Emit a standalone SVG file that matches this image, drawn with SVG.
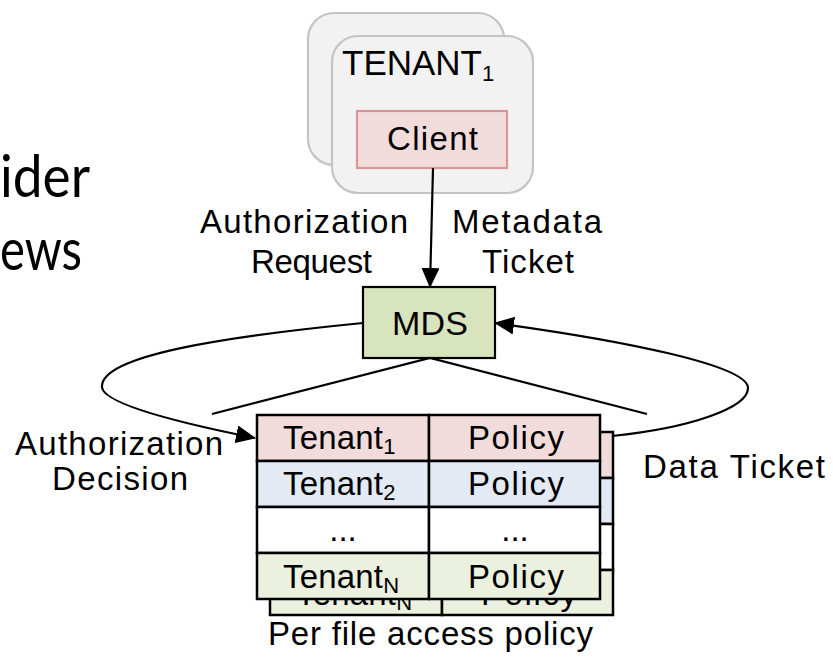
<svg xmlns="http://www.w3.org/2000/svg" width="833" height="658" viewBox="0 0 833 658">
<defs>
<style>
text{font-family:"Liberation Sans",Arial,sans-serif;fill:#000;}
.t{font-size:33px;}
.big{font-family:Lato,"Open Sans",sans-serif;font-size:58px;}
.ln{fill:none;stroke:#000;stroke-width:2.2;}
.cell{stroke:#000;stroke-width:2.5;}
.pink{fill:#f2dcdb;}
.blue{fill:#e4eaf4;}
.white{fill:#fff;}
.green{fill:#ebf1de;}
.tenant{fill:#f2f2f2;stroke:#c4c4c4;stroke-width:2.2;}
.sub{font-size:22px;}
</style>
<marker id="ahl" markerWidth="20" markerHeight="18" refX="19" refY="9" orient="auto" markerUnits="userSpaceOnUse" viewBox="0 0 20 18">
<path d="M0,0 L20,9 L0,18 Z" fill="#000"/>
</marker>
<clipPath id="backclip">
<rect x="260" y="600" width="360" height="20"/>
</clipPath>
</defs>

<!-- partial slide text -->
<text class="big" x="0" y="197" textLength="90" lengthAdjust="spacingAndGlyphs">ider</text>
<text class="big" x="0" y="270" textLength="82" lengthAdjust="spacingAndGlyphs">ews</text>

<g id="tenant1">
<rect class="tenant" x="308" y="13" width="196" height="152" rx="26"/>
<rect class="tenant" x="332" y="36" width="201" height="157" rx="26"/>
<text x="342" y="75" style="font-size:35px"><tspan textLength="140" lengthAdjust="spacing">TENANT</tspan><tspan dy="6" class="sub">1</tspan></text>
</g>

<g id="client">
<rect x="357" y="111" width="150" height="57" fill="#f2dcdb" stroke="#d99694" stroke-width="2.2"/>
<text class="t" x="387" y="150" textLength="91" lengthAdjust="spacing">Client</text>
</g>

<g id="mds">
<rect x="363" y="287" width="132" height="71" fill="#d7e4bd" stroke="#000" stroke-width="2.2"/>
<text x="392" y="335" textLength="76" lengthAdjust="spacing" style="font-size:34px">MDS</text>
</g>

<g id="policy-table-back">
<rect class="cell pink" x="270" y="432" width="172" height="46"/>
<rect class="cell pink" x="442" y="432" width="171" height="46"/>
<rect class="cell blue" x="270" y="478" width="172" height="46"/>
<rect class="cell blue" x="442" y="478" width="171" height="46"/>
<rect class="cell white" x="270" y="524" width="172" height="46"/>
<rect class="cell white" x="442" y="524" width="171" height="46"/>
<rect class="cell green" x="270" y="570" width="172" height="45"/>
<rect class="cell green" x="442" y="570" width="171" height="45"/>
<g clip-path="url(#backclip)">
<text class="t" x="296" y="605"><tspan textLength="100" lengthAdjust="spacing">Tenant</tspan><tspan dy="5" class="sub">N</tspan></text>
<text class="t" x="481" y="605" textLength="96" lengthAdjust="spacing">Policy</text>
</g>
</g>

<g id="policy-table">
<rect class="cell pink" x="257" y="415" width="172" height="46"/>
<rect class="cell pink" x="429" y="415" width="171" height="46"/>
<rect class="cell blue" x="257" y="461" width="172" height="46"/>
<rect class="cell blue" x="429" y="461" width="171" height="46"/>
<rect class="cell white" x="257" y="507" width="172" height="46"/>
<rect class="cell white" x="429" y="507" width="171" height="46"/>
<rect class="cell green" x="257" y="553" width="172" height="46"/>
<rect class="cell green" x="429" y="553" width="171" height="46"/>
<text class="t" x="283" y="449"><tspan textLength="100" lengthAdjust="spacing">Tenant</tspan><tspan dy="5" class="sub">1</tspan></text>
<text class="t" x="468" y="449" textLength="96" lengthAdjust="spacing">Policy</text>
<text class="t" x="283" y="495"><tspan textLength="100" lengthAdjust="spacing">Tenant</tspan><tspan dy="5" class="sub">2</tspan></text>
<text class="t" x="468" y="495" textLength="96" lengthAdjust="spacing">Policy</text>
<text class="t" x="343" y="541" text-anchor="middle">...</text>
<text class="t" x="515" y="541" text-anchor="middle">...</text>
<text class="t" x="283" y="588"><tspan textLength="100" lengthAdjust="spacing">Tenant</tspan><tspan dy="5" class="sub">N</tspan></text>
<text class="t" x="468" y="588" textLength="96" lengthAdjust="spacing">Policy</text>
</g>

<g id="connectors">
<line class="ln" x1="433" y1="168" x2="430" y2="287" marker-end="url(#ahl)"/>
<path class="ln" d="M363,323 C230,336 100,355 102,387 C103,405 190,425 255,438" marker-end="url(#ahl)"/>
<path class="ln" d="M612,436 C690,428 748,408 748,388 C748,365 620,340 495,323" marker-end="url(#ahl)"/>
<polyline class="ln" points="212,414 430,358 647,414"/>
</g>

<g id="labels">
<text class="t" x="200" y="233" textLength="208" lengthAdjust="spacing">Authorization</text>
<text class="t" x="251" y="273" textLength="121" lengthAdjust="spacing">Request</text>
<text class="t" x="452" y="233" textLength="150" lengthAdjust="spacing">Metadata</text>
<text class="t" x="482" y="273" textLength="92" lengthAdjust="spacing">Ticket</text>
<text class="t" x="15" y="455" textLength="208" lengthAdjust="spacing">Authorization</text>
<text class="t" x="52" y="490" textLength="136" lengthAdjust="spacing">Decision</text>
<text class="t" x="643" y="478" textLength="182" lengthAdjust="spacing">Data Ticket</text>
<text class="t" x="268" y="645" textLength="325" lengthAdjust="spacing">Per file access policy</text>
</g>
</svg>
